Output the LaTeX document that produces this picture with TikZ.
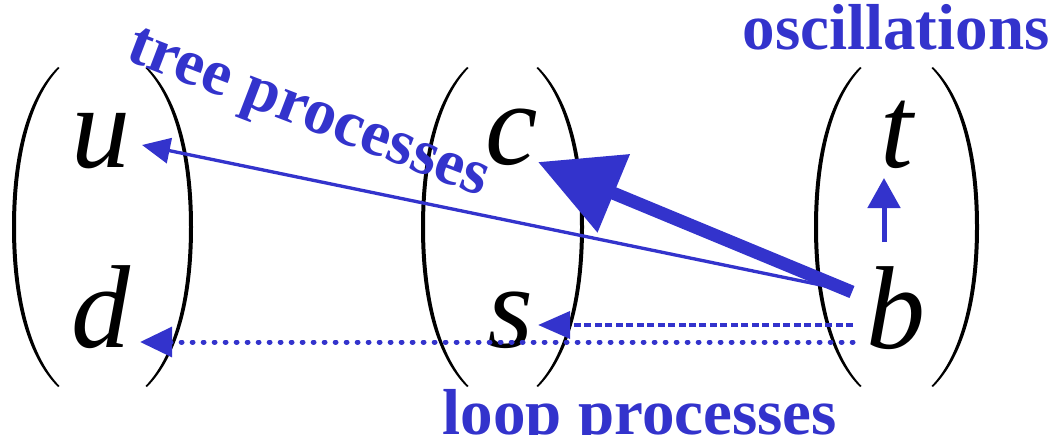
\documentclass[tikz,border=0pt]{standalone}
\usepackage{fontspec}
\setmainfont{Liberation Serif}
\usetikzlibrary{arrows.meta}
\definecolor{fblue}{RGB}{51,51,204}
\tikzset{
  letter/.style={font=\fontsize{88.5}{90}\selectfont\itshape, inner sep=0pt, anchor=base, text=black},
  lbl/.style={font=\fontsize{48.75}{50}\selectfont\bfseries, inner sep=0pt, anchor=base, text=fblue},
  parn/.pic={\fill[black] (0,-160) .. controls (-33,-127) and (-46,-67) .. (-46,0)
      .. controls (-46,67) and (-33,127) .. (0,160) -- (1.5,159)
      .. controls (-29,127) and (-42,67) .. (-42,0)
      .. controls (-42,-67) and (-29,-127) .. (1.5,-159) -- cycle;},
  thinarr/.style={draw=fblue, line width=2.5pt, -{Triangle[length=21pt,width=19pt,fill=fblue]}},
  thickarr/.style={draw=fblue, line width=9.75pt, -{Triangle[length=61.5pt,width=61pt,fill=fblue]}},
  dasharr/.style={draw=fblue, line width=3.5pt, dash pattern=on 5.25pt off 2.6pt, -{Triangle[length=24pt,width=20pt,fill=fblue]}},
  dotarr/.style={draw=fblue, line width=3.75pt, line cap=round, dash pattern=on 0.6pt off 7.65pt, -{Triangle[length=24pt,width=22pt,fill=fblue]}},
  uparr/.style={draw=fblue, line width=3.75pt, -{Triangle[length=22.5pt,width=24pt,fill=fblue]}}
}
\begin{document}
\begin{tikzpicture}[x=0.75pt,y=-0.75pt]
\useasboundingbox (0,0) rectangle (1054,435);
\clip (0,0) rectangle (1054,435);
% parentheses
\pic at (58,227) {parn};
\pic[xscale=-1] at (147,227) {parn};
\pic at (467,227) {parn};
\pic[xscale=-1] at (538,227) {parn};
\pic at (860,227) {parn};
\pic[xscale=-1] at (933,227) {parn};
% quarks
\node[letter] (u) at (101,167) {u};
\node[letter] (d) at (101,347) {d};
\node[letter] (c) at (512,165) {c};
\node[letter] (s) at (510,347) {s};
\node[letter] (t) at (897,167) {t};
\node[letter] (b) at (896,348) {b};
% connector end points
\coordinate (bA) at (850,291);
\coordinate (bB) at (852,292);
\coordinate (bC) at (853,325);
\coordinate (bD) at (853,342);
\coordinate (bE) at (884,242);
\coordinate (uT) at (142,145);
\coordinate (cT) at (538,162);
\coordinate (sT) at (538,325);
\coordinate (dT) at (140,342);
\coordinate (tT) at (884,178);
% connectors
\draw[thinarr] (bA) -- (uT);
\draw[thickarr] (bB) -- (cT);
\draw[dasharr] (bC) -- (sT);
\draw[dotarr] (bD) -- (dT);
\draw[uparr] (bE) -- (tT);
% labels
\node[lbl] (osc) at (896,50) {oscillations};
\node[lbl, rotate=-21] (tree) at (303,128) {tree processes};
\node[lbl] (loop) at (640,434) {loop processes};
\end{tikzpicture}
\end{document}
